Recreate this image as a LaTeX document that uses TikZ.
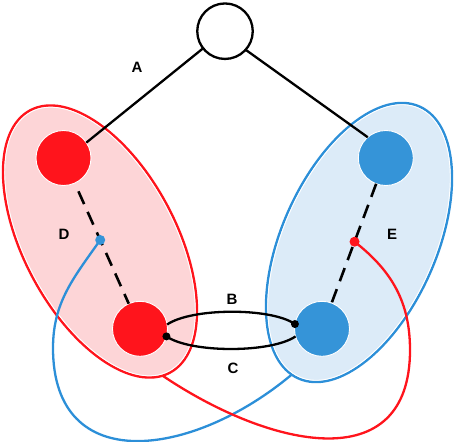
\documentclass[tikz,border=0pt]{standalone}
\usepackage{fontspec}
\setmainfont{Liberation Sans}
\usetikzlibrary{shapes.geometric,calc}
\definecolor{cred}{HTML}{FF141C}
\definecolor{cblue}{HTML}{3594D8}
\definecolor{fred}{HTML}{FDD5D7}
\definecolor{fblue}{HTML}{DCEBF8}
\definecolor{sblue}{HTML}{2C8FD8}
\begin{document}
\begin{tikzpicture}[x=1pt,y=1pt,
  group/.style={ellipse, inner sep=0pt, outer sep=0pt, line width=2.4pt},
  ring/.style={ellipse, inner sep=0pt, outer sep=0pt, draw=white, line width=0.9pt},
  ball/.style={circle, inner sep=0pt, outer sep=0pt, minimum size=55pt, draw=white, line width=0.9pt},
  dotnode/.style={circle, inner sep=0pt, outer sep=0pt, minimum size=#1},
  lbl/.style={font=\bfseries\fontsize{15}{15}\selectfont, inner sep=0pt},
  edge/.style={line width=2.3pt},
  dashline/.style={line width=2.6pt, dash pattern=on 14pt off 8.5pt},
]
\useasboundingbox (0,0) rectangle (454,-441);
% groups
\node[group, fill=fred, draw=cred, minimum width=297.2pt, minimum height=152.6pt, rotate=-62] (RE) at (100,-241.5) {};
\node[ring, minimum width=293.6pt, minimum height=149pt, rotate=-62] (REr) at (100,-241.5) {};
\node[group, fill=fblue, draw=sblue, minimum width=297.6pt, minimum height=154.6pt, rotate=66] (BE) at (359,-242.5) {};
\node[ring, minimum width=294pt, minimum height=151pt, rotate=66] (BEr) at (359,-242.5) {};
% vertices
\node[circle, inner sep=0pt, outer sep=0pt, minimum size=55.5pt, draw=black, line width=2.3pt, fill=white] (top) at (225,-31.2) {};
\node[ball, fill=cred] (r1) at (63.5,-158) {};
\node[ball, fill=cred] (r2) at (140,-328.8) {};
\node[ball, fill=cblue] (b1) at (385.8,-158) {};
\node[ball, fill=cblue] (b2) at (322,-328.8) {};
% edges A
\draw[edge] (top.218) -- (r1.34);
\draw[edge] (top.-42) -- (b1.131);
% loop B and C
\draw[edge] (r2.9) to[out=34.5,in=145.5,looseness=0.59] (b2.170);
\draw[edge] (b2.196) to[out=214.5,in=-34.5,looseness=0.59] (r2.-16);
\node[dotnode=8pt, fill=black] (dB) at (b2.170) {};
\node[dotnode=8pt, fill=black] (dC) at (r2.-16) {};
% dashed lines
\draw[dashline, shorten <=9pt] (r1) -- (r2);
\draw[dashline] (b1) -- (b2);
\coordinate (bpos) at ($(r1)!0.48!(r2)$);
\coordinate (rpos) at ($(b1)!0.49!(b2)$);
% crossing curves
\coordinate (bl) at (53,-348);
\coordinate (rr) at (410,-350);
\draw[edge, sblue] (bpos) to[out=235,in=90] (bl) to[out=-90,in=220,looseness=1.38] (BE.177);
\draw[edge, cred] (rpos) to[out=-38,in=90] (rr) to[out=-90,in=-34,looseness=1.33] (RE.-3);
\node[dotnode=10pt, fill=cblue] (bdot) at (bpos) {};
\node[dotnode=10pt, fill=cred] (rdot) at (rpos) {};
% labels
\node[lbl] (lA) at (137,-67) {A};
\node[lbl] (lB) at (232,-299) {B};
\node[lbl] (lC) at (233,-368) {C};
\node[lbl] (lD) at (64,-234) {D};
\node[lbl] (lE) at (392,-234) {E};
\end{tikzpicture}
\end{document}
